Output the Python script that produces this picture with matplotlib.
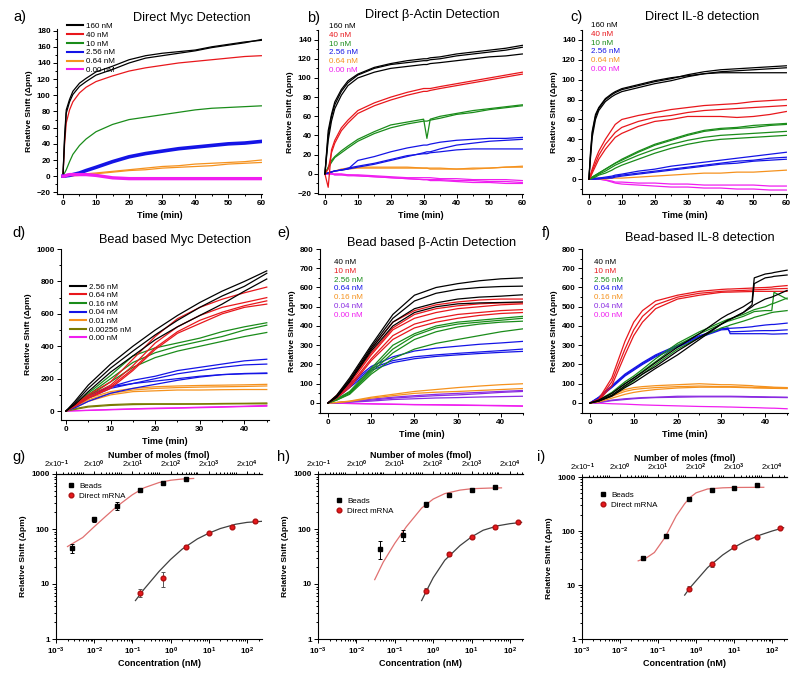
import matplotlib
matplotlib.use("Agg")
import matplotlib.pyplot as plt
from matplotlib.ticker import MultipleLocator, LogLocator, NullFormatter, FixedLocator
from matplotlib.lines import Line2D

plt.rcParams['font.family'] = ['Liberation Sans', 'DejaVu Sans']
plt.rcParams['mathtext.fontset'] = 'custom'
plt.rcParams['mathtext.rm'] = 'Liberation Sans'
plt.rcParams['mathtext.bf'] = 'Liberation Sans:bold'
plt.rcParams['mathtext.default'] = 'bf'

# colours (Origin style)
BLACK, RED, GREEN, BLUE = '#000000', '#e8171c', '#1a8c1a', '#1414e6'
ORANGE, MAGENTA, OLIVE, VIOLET = '#f5921e', '#f01ef0', '#7a7a00', '#8a2be2'

# ---------------- a) Direct Myc ----------------
a_t = [0, 0.5, 1, 2, 3, 5, 7, 10, 15, 20, 25, 30, 35, 40, 45, 50, 55, 60]
a_160 = [[0, 50, 82, 95, 105, 115, 121, 129, 136, 144, 149, 152, 154, 156, 160, 163, 166, 168],
         [0, 45, 78, 92, 101, 111, 117, 125, 132, 140, 146, 149, 152, 155, 159, 162, 165, 169]]
a_40 = [[0, 40, 66, 82, 92, 103, 110, 117, 124, 130, 134, 137, 140, 142, 144, 146, 148, 149]]
a_10 = [[0, 4, 8, 18, 27, 38, 46, 55, 64, 70, 73, 76, 79, 82, 84, 85, 86, 87]]
a_256 = [[0, 0, 0.5, 1, 2, 4, 7, 11, 18, 24, 28, 31, 34, 36, 38, 40, 41, 43]]
a_064 = [[0, 0, 0, 0.5, 1, 2, 3, 4, 6, 8, 10, 12, 13, 15, 16, 17, 18, 20],
         [0, 0, 0, 0, 0.5, 1, 2, 3, 5, 7, 8, 10, 11, 12, 13, 15, 16, 17]]
a_000 = [[0, 0, 1, 2, 2, 2, 2, 1, -2, -3, -3, -3, -3, -3, -3, -3, -3, -3]]
a_labels = ['160 nM', '40 nM', '10 nM', '2.56 nM', '0.64 nM', '0.00 nM']

# ---------------- b) Direct beta-Actin ----------------
b_t = [0, 1, 2, 3, 5, 7, 10, 15, 20, 25, 30, 31, 32, 35, 40, 45, 50, 55, 60]
b_160 = [[0, 40, 60, 72, 86, 95, 103, 110, 114, 116, 118, 118, 119, 120, 123, 125, 127, 129, 132],
         [0, 35, 55, 68, 82, 92, 100, 106, 110, 112, 114, 114, 115, 116, 118, 120, 122, 123, 125],
         [0, 45, 62, 75, 88, 97, 104, 111, 115, 118, 120, 120, 121, 122, 125, 127, 129, 131, 134]]
b_40 = [[0, -14, 25, 35, 48, 56, 66, 74, 80, 85, 89, 89, 89, 91, 94, 97, 100, 103, 106],
        [0, 5, 22, 32, 45, 53, 63, 71, 77, 82, 86, 86, 87, 89, 92, 95, 98, 101, 104]]
b_10 = [[0, 7, 14, 18, 24, 29, 36, 44, 51, 54, 57, 37, 57, 60, 63, 66, 68, 70, 72],
        [0, 6, 12, 17, 22, 27, 34, 42, 48, 52, 55, 55, 56, 58, 62, 64, 67, 69, 71]]
b_256 = [[0, 1, 2, 3, 4, 5, 7, 10, 14, 18, 22, 23, 23, 26, 30, 32, 34, 35, 36],
         [0, 1, 2, 3, 4, 5, 14, 18, 23, 27, 30, 30, 31, 33, 35, 36, 37, 37, 38],
         [0, 1, 2, 3, 4, 6, 8, 11, 15, 19, 21, 21, 22, 23, 25, 26, 26, 26, 26]]
b_064 = [[0, 1, 2, 3, 5, 6, 7, 7, 7, 7, 6, 6, 6, 6, 5, 6, 6, 7, 8],
         [0, 1, 2, 3, 4, 5, 6, 6, 6, 6, 6, 6, 5, 5, 5, 5, 6, 7, 7]]
b_000 = [[0, 0, 0, -1, -1, -1, -2, -3, -4, -5, -6, -6, -6, -6, -7, -7, -8, -8, -9],
         [0, 0, 0, 0, 0, -1, -1, -2, -3, -4, -4, -4, -4, -5, -5, -6, -6, -6, -7],
         [0, 0, 0, -1, -1, -2, -2, -3, -4, -5, -6, -6, -7, -7, -8, -9, -9, -10, -10]]
b_labels = ['160 nM', '40 nM', '10 nM', '2.56 nM', '0.64 nM', '0.00 nM']

# ---------------- c) Direct IL-8 ----------------
c_t = [0, 0.5, 1, 2, 3, 5, 7, 8, 10, 15, 20, 25, 30, 35, 40, 45, 50, 55, 60]
c_160 = [[0, 25, 46, 63, 71, 80, 85, 87, 90, 94, 98, 101, 105, 108, 110, 111, 112, 113, 114],
         [0, 22, 42, 60, 69, 78, 83, 85, 88, 92, 96, 99, 103, 106, 108, 109, 110, 111, 112],
         [0, 28, 48, 65, 72, 81, 86, 88, 91, 95, 99, 102, 104, 106, 107, 107, 107, 107, 107]]
c_40 = [[0, 5, 10, 20, 28, 40, 50, 55, 60, 64, 67, 70, 72, 74, 75, 76, 78, 79, 80],
        [0, 3, 8, 16, 24, 35, 43, 47, 52, 58, 62, 64, 67, 69, 70, 71, 72, 73, 74],
        [0, 2, 6, 13, 20, 30, 38, 42, 46, 53, 58, 60, 63, 63, 63, 62, 63, 65, 68]]
c_10 = [[0, 1, 2, 4, 6, 10, 14, 16, 20, 28, 35, 40, 45, 49, 51, 52, 54, 55, 56],
        [0, 1, 2, 4, 6, 10, 14, 16, 19, 27, 34, 39, 44, 48, 50, 51, 52, 54, 55],
        [0, 1, 1, 3, 5, 8, 12, 14, 17, 24, 30, 35, 39, 42, 44, 45, 46, 47, 48],
        [0, 0, 1, 2, 4, 6, 9, 11, 14, 20, 26, 31, 35, 38, 40, 41, 42, 43, 44]]
c_256 = [[0, 0, 0, 1, 1, 2, 3, 4, 5, 8, 10, 13, 15, 17, 19, 21, 23, 25, 27],
         [0, 0, 0, 0, 1, 1, 2, 3, 4, 6, 8, 10, 12, 14, 16, 18, 19, 21, 22],
         [0, 0, 0, 0, 0, 1, 1, 2, 3, 5, 7, 9, 11, 13, 15, 16, 18, 19, 20]]
c_064 = [[0, 0, 0, 0, 0, 0, 1, 1, 1, 2, 3, 4, 5, 6, 6, 7, 7, 8, 9]]
c_000 = [[0, 0, 0, 0, 0, -1, -2, -3, -3, -4, -4, -5, -5, -6, -6, -6, -6, -7, -7],
         [0, 0, 0, 0, 0, -1, -3, -4, -5, -6, -7, -8, -8, -9, -9, -10, -10, -11, -11]]
c_labels = ['160 nM', '40 nM', '10 nM', '2.56 nM', '0.64 nM', '0.00 nM']

# ---------------- d) Bead based Myc ----------------
d_t = [0, 2, 5, 10, 15, 20, 25, 30, 35, 40, 45]
d_256 = [[0, 60, 160, 290, 400, 500, 590, 670, 740, 800, 865],
         [0, 50, 140, 265, 370, 470, 560, 640, 710, 770, 850],
         [0, 40, 120, 240, 340, 440, 520, 590, 660, 740, 815]]
d_064 = [[0, 40, 100, 180, 320, 460, 570, 640, 690, 730, 765],
         [0, 35, 90, 160, 280, 420, 520, 590, 640, 670, 700],
         [0, 30, 80, 150, 260, 390, 490, 560, 610, 650, 680],
         [0, 30, 80, 140, 250, 380, 480, 540, 600, 640, 660]]
d_016 = [[0, 40, 110, 220, 340, 390, 420, 450, 490, 520, 545],
         [0, 35, 100, 200, 300, 360, 400, 430, 460, 500, 530],
         [0, 30, 90, 180, 270, 330, 370, 400, 430, 460, 485]]
d_004 = [[0, 35, 90, 150, 190, 215, 250, 270, 290, 310, 320],
         [0, 30, 80, 140, 170, 200, 230, 250, 270, 285, 290],
         [0, 40, 100, 150, 170, 185, 200, 215, 225, 232, 235],
         [0, 20, 60, 110, 140, 165, 190, 210, 225, 230, 232]]
d_001 = [[0, 30, 80, 120, 140, 150, 155, 158, 160, 162, 165],
         [0, 25, 70, 110, 130, 140, 145, 148, 150, 152, 155],
         [0, 20, 60, 100, 120, 125, 130, 130, 132, 133, 133]]
d_0026 = [[0, 15, 30, 40, 45, 45, 45, 45, 47, 48, 50],
          [0, 10, 25, 35, 40, 42, 42, 43, 44, 45, 45]]
d_000 = [[0, 2, 5, 10, 14, 18, 20, 24, 27, 30, 35],
         [0, 2, 4, 8, 12, 15, 18, 21, 24, 28, 30]]
d_labels = ['2.56 nM', '0.64 nM', '0.16 nM', '0.04 nM', '0.01 nM', '0.00256 nM', '0.00 nM']

# ---------------- e) Bead based beta-Actin ----------------
e_t = [0, 2, 5, 10, 15, 20, 25, 30, 35, 40, 45]
e_40 = [[0, 40, 130, 300, 460, 560, 600, 620, 635, 645, 650],
        [0, 35, 120, 290, 440, 530, 570, 590, 600, 605, 607],
        [0, 30, 110, 280, 420, 490, 520, 540, 550, 555, 562],
        [0, 30, 110, 270, 400, 470, 500, 515, 520, 522, 525]]
e_10 = [[0, 40, 120, 280, 420, 480, 510, 525, 535, 540, 540],
        [0, 35, 110, 260, 390, 460, 490, 505, 515, 520, 520],
        [0, 30, 100, 250, 380, 440, 470, 490, 500, 510, 515],
        [0, 30, 90, 230, 350, 410, 440, 460, 470, 480, 485],
        [0, 25, 80, 220, 330, 390, 420, 440, 455, 465, 470]]
e_256 = [[0, 20, 60, 180, 300, 360, 400, 420, 430, 440, 450],
         [0, 20, 55, 170, 280, 350, 390, 410, 420, 430, 440],
         [0, 15, 50, 160, 260, 330, 370, 395, 410, 420, 425],
         [0, 15, 45, 150, 230, 280, 310, 330, 350, 370, 385]]
e_064 = [[0, 30, 100, 190, 240, 270, 285, 295, 305, 312, 320],
         [0, 30, 90, 180, 220, 240, 250, 258, 265, 272, 280],
         [0, 25, 80, 170, 210, 230, 242, 250, 257, 263, 268]]
e_016 = [[0, 3, 10, 30, 45, 60, 70, 80, 88, 95, 100],
         [0, 2, 8, 25, 38, 50, 56, 60, 65, 70, 75]]
e_004 = [[0, 2, 7, 20, 30, 38, 45, 50, 55, 60, 65],
         [0, 2, 6, 15, 25, 32, 38, 42, 48, 55, 60],
         [0, 1, 4, 10, 18, 22, 26, 28, 31, 33, 35]]
e_000 = [[0, -1, -2, -4, -6, -8, -9, -10, -12, -13, -15],
         [0, -1, -3, -5, -7, -9, -10, -12, -13, -15, -17]]
e_labels = ['40 nM', '10 nM', '2.56 nM', '0.64 nM', '0.16 nM', '0.04 nM', '0.00 nM']

# ---------------- f) Bead-based IL-8 ----------------
f_t = [0, 2, 5, 8, 10, 12, 15, 20, 25, 30, 31.5, 32, 35, 37, 37.5, 40, 41.5, 42, 45]
f_40 = [[0, 15, 50, 100, 130, 160, 210, 290, 360, 440, 460, 465, 500, 530, 650, 670, 675, 678, 690],
        [0, 10, 40, 90, 120, 150, 190, 270, 340, 410, 430, 435, 470, 510, 620, 650, 655, 658, 665],
        [0, 10, 35, 80, 105, 135, 180, 250, 330, 410, 430, 435, 470, 500, 510, 540, 550, 555, 585]]
f_10 = [[0, 20, 130, 320, 420, 480, 530, 560, 580, 590, 592, 592, 595, 597, 598, 600, 602, 604, 610],
        [0, 15, 110, 280, 380, 450, 510, 550, 570, 580, 582, 582, 585, 587, 588, 590, 592, 593, 595],
        [0, 10, 90, 250, 350, 420, 490, 540, 560, 575, 576, 576, 578, 579, 580, 580, 580, 580, 580]]
f_256 = [[0, 15, 55, 110, 140, 175, 230, 310, 370, 420, 435, 438, 460, 480, 485, 500, 515, 518, 545],
         [0, 12, 50, 100, 130, 165, 215, 300, 360, 410, 425, 428, 450, 470, 475, 480, 480, 575, 540],
         [0, 10, 40, 85, 115, 150, 200, 280, 340, 390, 400, 405, 425, 440, 445, 460, 470, 472, 480]]
f_064 = [[0, 30, 90, 150, 180, 210, 250, 300, 350, 385, 390, 360, 360, 360, 360, 360, 358, 358, 360],
         [0, 25, 80, 140, 170, 200, 240, 290, 340, 380, 382, 370, 372, 374, 375, 376, 376, 376, 380],
         [0, 28, 85, 145, 175, 205, 245, 295, 345, 385, 388, 388, 392, 396, 398, 405, 408, 408, 415]]
f_016 = [[0, 10, 40, 70, 80, 85, 90, 95, 100, 95, 95, 95, 92, 90, 88, 85, 83, 82, 80],
         [0, 8, 35, 60, 70, 75, 80, 85, 88, 85, 85, 85, 83, 82, 81, 80, 79, 79, 78],
         [0, 5, 25, 45, 55, 62, 70, 78, 82, 82, 82, 82, 80, 79, 78, 77, 76, 76, 75]]
f_004 = [[0, 3, 15, 22, 25, 28, 30, 35, 35, 35, 35, 35, 34, 33, 33, 32, 31, 31, 30],
         [0, 2, 12, 18, 22, 25, 28, 30, 32, 32, 32, 32, 31, 30, 30, 29, 29, 29, 28]]
f_000 = [[0, -1, -4, -6, -8, -10, -12, -15, -18, -20, -21, -21, -23, -24, -24, -26, -27, -27, -30]]
f_labels = ['40 nM', '10 nM', '2.56 nM', '0.64 nM', '0.16 nM', '0.04 nM', '0.00 nM']

# ---------------- g, h, i) calibration curves ----------------
g_bead_x = [0.00256, 0.01, 0.04, 0.16, 0.64, 2.56]
g_bead_y = [45, 151, 265, 519, 685, 822]
g_bead_err = [8, 15, 40, 25, 30, 25]
g_dir_x = [0.16, 0.64, 2.56, 10, 40, 160]
g_dir_y = [7.0, 12.8, 48, 84, 111, 137]
g_dir_err = [1.2, 4, 3, 4, 5, 6]
g_fitb_x = [0.002, 0.005, 0.01, 0.02, 0.04, 0.1, 0.2, 0.5, 1, 2, 4]
g_fitb_y = [48, 70, 110, 170, 260, 420, 560, 700, 770, 810, 830]
g_fitd_x = [0.12, 0.2, 0.5, 1, 2, 5, 10, 20, 50, 100, 250]
g_fitd_y = [5, 8, 17, 28, 43, 66, 84, 102, 122, 132, 138]

h_bead_x = [0.04, 0.16, 0.64, 2.56, 10, 40]
h_bead_y = [44, 77, 284, 420, 504, 571]
h_bead_err = [16, 17, 30, 20, 20, 45]
h_dir_x = [0.64, 2.56, 10, 40, 160]
h_dir_y = [7.6, 35, 71, 107, 132]
h_dir_err = [0.8, 3, 4, 5, 6]
h_fitb_x = [0.03, 0.05, 0.1, 0.2, 0.5, 1, 2, 5, 10, 30, 60]
h_fitb_y = [12, 25, 55, 110, 240, 350, 440, 510, 540, 555, 560]
h_fitd_x = [0.5, 0.7, 1, 2, 5, 10, 20, 50, 100, 200]
h_fitd_y = [5, 8, 13, 27, 50, 72, 95, 115, 125, 132]

i_bead_x = [0.04, 0.16, 0.64, 2.56, 10, 40]
i_bead_y = [31.8, 82, 398, 583, 626, 722]
i_bead_err = [2, 5, 25, 25, 25, 30]
i_dir_x = [0.64, 2.56, 10, 40, 160]
i_dir_y = [8.6, 24, 50, 78, 116]
i_dir_err = [1, 2, 4, 4, 5]
i_fitb_x = [0.03, 0.05, 0.08, 0.1, 0.15, 0.2, 0.3, 0.5, 0.7, 1, 2, 5, 10, 60]
i_fitb_y = [28, 32, 40, 50, 75, 110, 190, 320, 420, 510, 600, 630, 640, 645]
i_fitd_x = [0.5, 0.7, 1, 2, 5, 10, 20, 50, 100, 200]
i_fitd_y = [6.5, 9, 12, 21, 36, 50, 65, 85, 100, 115]

fmol_ticks = [0.2, 2, 20, 200, 2000, 20000]
fmol_labels = ['2x10$^{-1}$', '2x10$^{0}$', '2x10$^{1}$', '2x10$^{2}$', '2x10$^{3}$', '2x10$^{4}$']

W, H = 800, 679
fig = plt.figure(figsize=(8, 6.79), dpi=100)

TICK_FS = 5.9
LAB_FS = 6.5
LEG_FS = 5.8


def box(l, t, r, b):
    return [l / W, 1 - b / H, (r - l) / W, (b - t) / H]


def px(x, y):
    return (x / W, 1 - y / H)


def style(ax, top=False):
    ax.spines['right'].set_visible(False)
    if not top:
        ax.spines['top'].set_visible(False)
    for s in ax.spines.values():
        s.set_linewidth(0.8)
    ax.tick_params(which='both', direction='out', width=0.7, labelsize=TICK_FS, pad=1.5)
    ax.tick_params(which='major', length=3)
    ax.tick_params(which='minor', length=1.6)
    for lab in ax.get_xticklabels() + ax.get_yticklabels():
        lab.set_fontweight('bold')
    ax.set_ylabel('Relative Shift (Δpm)', fontsize=6.1, fontweight='bold', labelpad=3)


def kinetics(ax, t, groups, colors, lw=0.9):
    for reps, col in zip(groups, colors):
        for y in reps:
            ax.plot(t, y, color=col, lw=lw)


def text_legend(labels, colors, x, y):
    hs = [Line2D([], [], color=c) for c in colors]
    leg = fig.legend(hs, labels, loc='upper left', bbox_to_anchor=px(x, y), frameon=False,
                     handlelength=0, handletextpad=0, fontsize=LEG_FS, labelspacing=0.16,
                     borderpad=0, labelcolor=colors)
    for h in leg.legend_handles:
        h.set_visible(False)


def line_legend(labels, colors, x, y, spacing=0.16):
    hs = [Line2D([], [], color=c, lw=1.5) for c in colors]
    fig.legend(hs, labels, loc='upper left', bbox_to_anchor=px(x, y), frameon=False,
               handlelength=2.0, handletextpad=0.4, fontsize=LEG_FS, labelspacing=spacing,
               borderpad=0)


def time_axis(ax, xlim, ylim, ymaj, ymin, xmaj=10):
    ax.set_xlim(*xlim)
    ax.set_ylim(*ylim)
    ax.xaxis.set_major_locator(MultipleLocator(xmaj))
    ax.xaxis.set_minor_locator(MultipleLocator(xmaj / 2))
    ax.yaxis.set_major_locator(MultipleLocator(ymaj))
    ax.yaxis.set_minor_locator(MultipleLocator(ymin))
    ax.set_xlabel('Time (min)', fontsize=LAB_FS, fontweight='bold', labelpad=2.5)
    style(ax)


cols6 = [BLACK, RED, GREEN, BLUE, ORANGE, MAGENTA]

# a)
ax = fig.add_axes(box(57, 29, 262, 194))
kinetics(ax, a_t, [a_064, a_10, a_40, a_160], [ORANGE, GREEN, RED, BLACK])
kinetics(ax, a_t, [a_256], [BLUE], lw=2.6)
kinetics(ax, a_t, [a_000], [MAGENTA], lw=2.4)
time_axis(ax, (-1.8, 60.2), (-22, 182), 20, 10)
line_legend(a_labels, cols6, 63, 18)

# b)
ax = fig.add_axes(box(318, 30, 523, 194))
kinetics(ax, b_t, [b_000, b_064, b_256, b_10, b_40, b_160], cols6[::-1])
time_axis(ax, (-2.1, 60.2), (-21, 150), 20, 10)
text_legend(b_labels, cols6, 325, 18)

# c)
ax = fig.add_axes(box(582, 30, 787, 194))
kinetics(ax, c_t, [c_000, c_064, c_256, c_10, c_40, c_160], cols6[::-1])
time_axis(ax, (-2.1, 60.2), (-15, 150), 20, 10)
text_legend(c_labels, cols6, 587, 17)

# d)
cols7d = [BLACK, RED, GREEN, BLUE, ORANGE, OLIVE, MAGENTA]
ax = fig.add_axes(box(61, 249, 269, 420))
kinetics(ax, d_t, [d_000, d_0026, d_001, d_004, d_016, d_064, d_256], cols7d[::-1])
time_axis(ax, (-1.1, 45.5), (-55, 1000), 200, 100)
line_legend(d_labels, cols7d, 66, 279, spacing=0.12)

# e)
cols7 = [BLACK, RED, GREEN, BLUE, ORANGE, VIOLET, MAGENTA]
ax = fig.add_axes(box(320, 249, 523, 413))
kinetics(ax, e_t, [e_000, e_004, e_016, e_064, e_256, e_10, e_40], cols7[::-1])
time_axis(ax, (-1.85, 45.1), (-52, 800), 100, 50)
text_legend(e_labels, cols7, 330, 254)

# f)
ax = fig.add_axes(box(582, 249, 788, 413))
kinetics(ax, f_t, [f_000, f_004, f_016, f_064, f_256, f_10, f_40], cols7[::-1])
time_axis(ax, (-1.8, 45.2), (-52, 800), 100, 50)
text_legend(f_labels, cols7, 590, 254)


# g, h, i)
def calib(rect, bx, by, be, dx, dy, de, fbx, fby, fdx, fdy, xmax, legxy):
    ax = fig.add_axes(box(*rect))
    ax.plot(fbx, fby, color='#e07070', lw=0.9)
    ax.plot(fdx, fdy, color='#404040', lw=0.9)
    ax.errorbar(bx, by, yerr=be, fmt='none', ecolor='black', capsize=1.5, elinewidth=0.7,
                capthick=0.7)
    ax.errorbar(dx, dy, yerr=de, fmt='none', ecolor='#555555', capsize=1.5, elinewidth=0.7,
                capthick=0.7)
    ax.plot(bx, by, 's', color='black', ms=3.2, ls='none', label='Beads')
    ax.plot(dx, dy, 'o', color='#e8171c', mec='#b01010', ms=3.4, ls='none', label='Direct mRNA')
    ax.set_xscale('log')
    ax.set_yscale('log')
    ax.set_xlim(1e-3, xmax)
    ax.set_ylim(1, 1000)
    ax.yaxis.set_major_locator(FixedLocator([1, 10, 100, 1000]))
    ax.set_yticklabels(['1', '10', '100', '1000'])
    ax.xaxis.set_major_locator(LogLocator(base=10, numticks=10))
    ax.xaxis.set_minor_locator(LogLocator(base=10, subs=range(2, 10), numticks=20))
    ax.xaxis.set_minor_formatter(NullFormatter())
    ax.set_xlabel('Concentration (nM)', fontsize=LAB_FS, fontweight='bold', labelpad=2)
    style(ax, top=True)
    sec = ax.secondary_xaxis('top', functions=(lambda v: v * 200, lambda v: v / 200))
    sec.set_xticks(fmol_ticks)
    sec.set_xticklabels(fmol_labels)
    sec.xaxis.set_minor_locator(LogLocator(base=10, subs=range(1, 10), numticks=20))
    sec.xaxis.set_minor_formatter(NullFormatter())
    sec.tick_params(which='both', direction='out', width=0.7, labelsize=5.6, pad=0.5)
    sec.tick_params(which='major', length=2.5)
    sec.tick_params(which='minor', length=1.4)
    sec.spines['top'].set_linewidth(0.8)
    sec.set_xlabel('Number of moles (fmol)', fontsize=LAB_FS, fontweight='bold', labelpad=0.5)
    ax.legend(loc='upper left', bbox_to_anchor=px(*legxy), bbox_transform=fig.transFigure,
              frameon=False, fontsize=LEG_FS, handletextpad=0.5, borderpad=0, labelspacing=0.3,
              handlelength=1.0)
    return ax


calib((56, 474, 262, 639), g_bead_x, g_bead_y, g_bead_err, g_dir_x, g_dir_y, g_dir_err,
      g_fitb_x, g_fitb_y, g_fitd_x, g_fitd_y, 246, (63, 478))
calib((318, 474, 523, 639), h_bead_x, h_bead_y, h_bead_err, h_dir_x, h_dir_y, h_dir_err,
      h_fitb_x, h_fitb_y, h_fitd_x, h_fitd_y, 218, (331, 493))
calib((582, 477, 787, 639), i_bead_x, i_bead_y, i_bead_err, i_dir_x, i_dir_y, i_dir_err,
      i_fitb_x, i_fitb_y, i_fitd_x, i_fitd_y, 245, (595, 487))

# titles and panel letters
titles = [('Direct Myc Detection', 192, 18), ('Direct β-Actin Detection', 432, 15),
          ('Direct IL-8 detection', 702, 17), ('Bead based Myc Detection', 175, 240),
          ('Bead based β-Actin Detection', 432, 243), ('Bead-based IL-8 detection', 700, 238)]
for txt, x, y in titles:
    fig.text(*px(x, y), txt, fontsize=9.2, ha='center', va='center')

letters = [('a)', 13, 17), ('b)', 307, 18), ('c)', 570, 17), ('d)', 12, 233), ('e)', 277, 233),
           ('f)', 542, 233), ('g)', 12, 457), ('h)', 277, 457), ('i)', 537, 457)]
for txt, x, y in letters:
    fig.text(*px(x, y), txt, fontsize=10.5, ha='left', va='center')

fig.savefig('out.png', dpi=100)
